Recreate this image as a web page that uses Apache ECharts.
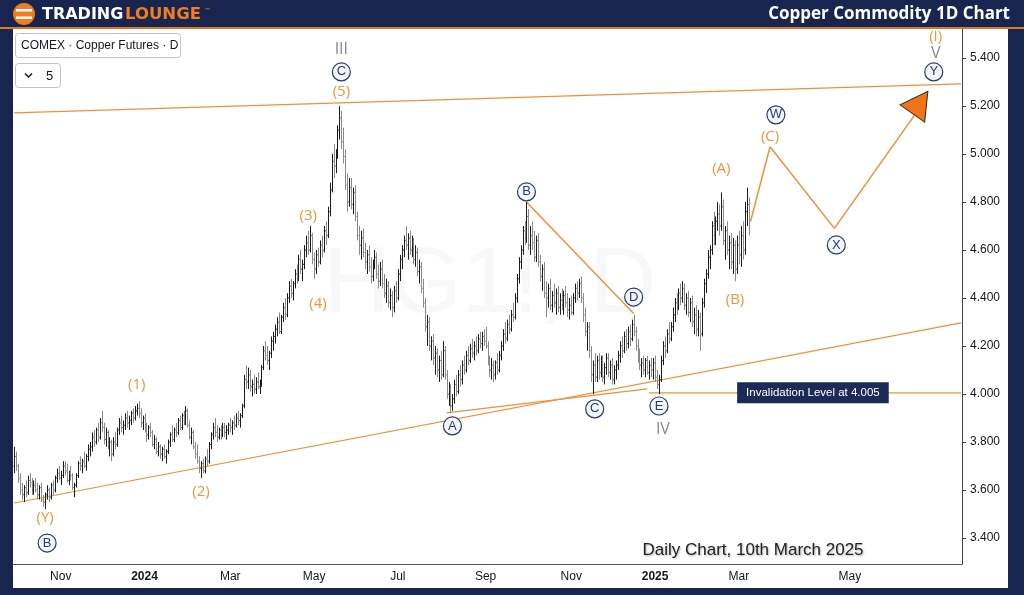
<!DOCTYPE html>
<html>
<head>
<meta charset="utf-8">
<script src="https://cdn.jsdelivr.net/npm/echarts@6/dist/echarts.min.js"></script>
<style>
html, body { margin: 0; padding: 0; background: #17254f; }
#chart { width: 1024px; height: 595px; }
</style>
</head>
<body>
<div id="chart"></div>
<script>
// COMEX copper futures, daily bars: open, high, low, close (from 2023-09-28 to 2025-03-10)
const bars = [
  [3.70,3.78,3.67,3.74],[3.74,3.76,3.68,3.70],[3.70,3.71,3.63,3.65],[3.65,3.67,3.58,3.60],[3.60,3.63,3.56,3.58],
  [3.58,3.62,3.55,3.61],[3.61,3.64,3.57,3.59],[3.59,3.66,3.58,3.64],[3.64,3.67,3.61,3.63],[3.63,3.65,3.58,3.60],
  [3.60,3.64,3.58,3.62],[3.62,3.65,3.59,3.60],[3.60,3.63,3.56,3.58],[3.58,3.62,3.56,3.61],[3.61,3.63,3.55,3.56],
  [3.56,3.58,3.53,3.55],[3.55,3.59,3.52,3.58],[3.58,3.62,3.56,3.60],[3.60,3.61,3.55,3.57],[3.57,3.63,3.56,3.62],
  [3.62,3.64,3.58,3.60],[3.60,3.66,3.59,3.65],[3.65,3.69,3.63,3.67],[3.67,3.70,3.64,3.65],[3.65,3.68,3.62,3.66],
  [3.66,3.72,3.65,3.70],[3.70,3.72,3.66,3.68],[3.68,3.71,3.63,3.64],[3.64,3.68,3.62,3.67],[3.67,3.70,3.64,3.66],
  [3.66,3.67,3.60,3.61],[3.61,3.63,3.57,3.62],[3.62,3.67,3.61,3.66],[3.66,3.72,3.65,3.71],[3.71,3.74,3.68,3.70],
  [3.70,3.73,3.67,3.72],[3.72,3.76,3.69,3.70],[3.70,3.75,3.68,3.74],[3.74,3.79,3.72,3.77],[3.77,3.80,3.74,3.78],
  [3.78,3.84,3.76,3.82],[3.82,3.85,3.78,3.80],[3.80,3.86,3.79,3.85],[3.85,3.88,3.80,3.82],[3.82,3.90,3.81,3.88],
  [3.88,3.93,3.84,3.86],[3.86,3.88,3.79,3.81],[3.81,3.86,3.78,3.84],[3.84,3.85,3.77,3.78],[3.78,3.82,3.74,3.80],
  [3.80,3.81,3.72,3.75],[3.75,3.82,3.74,3.80],[3.80,3.84,3.77,3.79],[3.79,3.86,3.78,3.85],[3.85,3.90,3.83,3.88],
  [3.88,3.91,3.84,3.86],[3.86,3.89,3.83,3.87],[3.87,3.92,3.85,3.90],[3.90,3.93,3.86,3.88],[3.88,3.91,3.85,3.89],
  [3.89,3.93,3.87,3.92],[3.92,3.94,3.88,3.90],[3.90,3.95,3.89,3.93],[3.93,3.96,3.91,3.94],[3.94,3.97,3.90,3.92],
  [3.92,3.94,3.86,3.88],[3.88,3.91,3.85,3.90],[3.90,3.92,3.84,3.85],[3.85,3.88,3.80,3.83],[3.83,3.87,3.81,3.86],
  [3.86,3.88,3.82,3.84],[3.84,3.85,3.78,3.79],[3.79,3.83,3.77,3.81],[3.81,3.82,3.75,3.76],[3.76,3.80,3.74,3.78],
  [3.78,3.79,3.73,3.75],[3.75,3.78,3.72,3.77],[3.77,3.79,3.73,3.74],[3.74,3.77,3.71,3.76],[3.76,3.81,3.75,3.80],
  [3.80,3.84,3.78,3.83],[3.83,3.87,3.80,3.81],[3.81,3.86,3.80,3.85],[3.85,3.88,3.82,3.84],[3.84,3.90,3.83,3.89],
  [3.89,3.91,3.85,3.86],[3.86,3.92,3.85,3.91],[3.91,3.93,3.87,3.88],[3.88,3.95,3.87,3.93],[3.93,3.94,3.86,3.87],
  [3.87,3.89,3.81,3.82],[3.82,3.86,3.79,3.84],[3.84,3.85,3.77,3.78],[3.78,3.80,3.73,3.75],[3.75,3.79,3.71,3.72],
  [3.72,3.74,3.67,3.69],[3.69,3.72,3.65,3.71],[3.71,3.73,3.67,3.68],[3.68,3.74,3.67,3.73],[3.73,3.77,3.70,3.72],
  [3.72,3.80,3.71,3.79],[3.79,3.84,3.77,3.83],[3.83,3.88,3.81,3.86],[3.86,3.90,3.82,3.84],[3.84,3.87,3.80,3.82],
  [3.82,3.86,3.81,3.85],[3.85,3.87,3.81,3.83],[3.83,3.88,3.82,3.86],[3.86,3.88,3.82,3.84],[3.84,3.87,3.81,3.85],
  [3.85,3.88,3.83,3.87],[3.87,3.90,3.84,3.86],[3.86,3.89,3.83,3.88],[3.88,3.91,3.85,3.87],[3.87,3.92,3.86,3.90],
  [3.90,3.93,3.87,3.89],[3.89,3.92,3.86,3.91],[3.91,3.96,3.90,3.95],[3.95,4.08,3.94,4.06],[4.06,4.12,4.02,4.05],
  [4.05,4.11,4.02,4.08],[4.08,4.10,4.01,4.03],[4.03,4.06,3.99,4.04],[4.04,4.08,4.00,4.02],[4.02,4.07,4.00,4.05],
  [4.05,4.09,4.02,4.03],[4.03,4.06,4.00,4.04],[4.04,4.12,4.03,4.11],[4.11,4.20,4.10,4.18],[4.18,4.22,4.14,4.16],
  [4.16,4.20,4.12,4.14],[4.14,4.18,4.10,4.17],[4.17,4.24,4.15,4.22],[4.22,4.26,4.18,4.24],[4.24,4.29,4.21,4.27],
  [4.27,4.32,4.24,4.30],[4.30,4.34,4.25,4.26],[4.26,4.33,4.25,4.32],[4.32,4.38,4.30,4.36],[4.36,4.40,4.31,4.33],
  [4.33,4.42,4.32,4.40],[4.40,4.47,4.38,4.45],[4.45,4.48,4.40,4.42],[4.42,4.47,4.39,4.46],[4.46,4.52,4.44,4.50],
  [4.50,4.54,4.46,4.48],[4.48,4.58,4.47,4.56],[4.56,4.60,4.50,4.52],[4.52,4.56,4.47,4.54],[4.54,4.62,4.52,4.60],
  [4.60,4.66,4.57,4.63],[4.63,4.68,4.58,4.60],[4.60,4.70,4.59,4.66],[4.66,4.67,4.54,4.56],[4.56,4.59,4.48,4.52],
  [4.52,4.60,4.50,4.58],[4.58,4.61,4.53,4.55],[4.55,4.64,4.54,4.62],[4.62,4.66,4.57,4.60],[4.60,4.70,4.59,4.68],
  [4.68,4.72,4.62,4.66],[4.66,4.78,4.65,4.76],[4.76,4.88,4.74,4.85],[4.85,5.00,4.84,4.97],[4.97,5.04,4.90,4.95],
  [4.95,5.02,4.92,5.00],[5.00,5.12,4.98,5.10],[5.10,5.20,5.06,5.15],[5.15,5.18,5.02,5.05],[5.05,5.11,4.96,4.99],
  [4.99,5.02,4.85,4.87],[4.87,4.92,4.76,4.80],[4.80,4.90,4.78,4.86],[4.86,4.90,4.77,4.79],[4.79,4.86,4.75,4.84],
  [4.84,4.87,4.72,4.74],[4.74,4.76,4.64,4.66],[4.66,4.70,4.58,4.62],[4.62,4.68,4.56,4.65],[4.65,4.69,4.57,4.59],
  [4.59,4.63,4.52,4.55],[4.55,4.60,4.50,4.58],[4.58,4.62,4.51,4.53],[4.53,4.57,4.46,4.49],[4.49,4.56,4.47,4.54],
  [4.54,4.60,4.52,4.57],[4.57,4.59,4.48,4.50],[4.50,4.54,4.44,4.47],[4.47,4.55,4.45,4.52],[4.52,4.56,4.44,4.46],
  [4.46,4.50,4.40,4.42],[4.42,4.48,4.38,4.45],[4.45,4.47,4.36,4.38],[4.38,4.44,4.35,4.41],[4.41,4.43,4.32,4.36],
  [4.36,4.45,4.34,4.43],[4.43,4.47,4.38,4.40],[4.40,4.52,4.39,4.50],[4.50,4.58,4.47,4.56],[4.56,4.62,4.52,4.60],
  [4.60,4.66,4.57,4.64],[4.64,4.70,4.60,4.62],[4.62,4.67,4.56,4.65],[4.65,4.68,4.58,4.60],[4.60,4.66,4.57,4.63],
  [4.63,4.65,4.54,4.56],[4.56,4.62,4.53,4.59],[4.59,4.61,4.49,4.51],[4.51,4.56,4.46,4.53],[4.53,4.55,4.42,4.44],
  [4.44,4.48,4.36,4.38],[4.38,4.40,4.26,4.28],[4.28,4.33,4.20,4.30],[4.30,4.32,4.18,4.20],[4.20,4.24,4.14,4.22],
  [4.22,4.25,4.12,4.15],[4.15,4.20,4.08,4.17],[4.17,4.19,4.07,4.10],[4.10,4.16,4.05,4.14],[4.14,4.18,4.06,4.08],
  [4.08,4.22,4.07,4.18],[4.18,4.20,4.06,4.08],[4.08,4.10,3.98,4.00],[4.00,4.05,3.95,4.02],[4.02,4.04,3.92,3.95],
  [3.95,4.00,3.93,3.98],[3.98,4.06,3.96,4.04],[4.04,4.08,3.99,4.01],[4.01,4.10,4.00,4.08],[4.08,4.12,4.03,4.06],
  [4.06,4.14,4.04,4.12],[4.12,4.16,4.08,4.10],[4.10,4.18,4.09,4.16],[4.16,4.20,4.12,4.14],[4.14,4.21,4.13,4.19],
  [4.19,4.23,4.15,4.17],[4.17,4.22,4.14,4.20],[4.20,4.24,4.16,4.18],[4.18,4.25,4.17,4.23],[4.23,4.26,4.19,4.21],
  [4.21,4.26,4.18,4.24],[4.24,4.27,4.20,4.22],[4.22,4.28,4.19,4.20],[4.20,4.22,4.12,4.14],[4.14,4.16,4.07,4.10],
  [4.10,4.15,4.06,4.12],[4.12,4.14,4.05,4.08],[4.08,4.14,4.06,4.13],[4.13,4.17,4.08,4.10],[4.10,4.18,4.09,4.16],
  [4.16,4.22,4.14,4.20],[4.20,4.27,4.18,4.25],[4.25,4.30,4.21,4.23],[4.23,4.31,4.22,4.29],[4.29,4.33,4.25,4.27],
  [4.27,4.35,4.26,4.33],[4.33,4.38,4.30,4.32],[4.32,4.42,4.31,4.40],[4.40,4.50,4.38,4.48],[4.48,4.57,4.46,4.55],
  [4.55,4.62,4.52,4.60],[4.60,4.70,4.58,4.68],[4.68,4.72,4.62,4.65],[4.65,4.80,4.63,4.74],[4.74,4.77,4.60,4.62],
  [4.62,4.70,4.58,4.66],[4.66,4.72,4.60,4.63],[4.63,4.68,4.55,4.57],[4.57,4.66,4.55,4.64],[4.64,4.67,4.53,4.55],
  [4.55,4.58,4.47,4.49],[4.49,4.54,4.43,4.52],[4.52,4.55,4.40,4.42],[4.42,4.47,4.32,4.40],[4.40,4.46,4.36,4.44],
  [4.44,4.48,4.35,4.37],[4.37,4.43,4.34,4.41],[4.41,4.46,4.36,4.38],[4.38,4.44,4.33,4.42],[4.42,4.45,4.34,4.36],
  [4.36,4.42,4.33,4.39],[4.39,4.44,4.35,4.37],[4.37,4.43,4.33,4.41],[4.41,4.45,4.36,4.38],[4.38,4.42,4.32,4.35],
  [4.35,4.40,4.31,4.37],[4.37,4.41,4.33,4.34],[4.34,4.42,4.33,4.40],[4.40,4.46,4.38,4.44],[4.44,4.47,4.39,4.42],
  [4.42,4.48,4.40,4.46],[4.46,4.49,4.38,4.40],[4.40,4.42,4.30,4.33],[4.33,4.36,4.24,4.26],[4.26,4.30,4.18,4.28],
  [4.28,4.30,4.15,4.18],[4.18,4.20,4.05,4.08],[4.08,4.14,4.00,4.12],[4.12,4.17,4.05,4.07],[4.07,4.16,4.05,4.14],
  [4.14,4.17,4.06,4.09],[4.09,4.16,4.07,4.14],[4.14,4.16,4.05,4.07],[4.07,4.13,4.04,4.11],[4.11,4.17,4.08,4.15],
  [4.15,4.17,4.07,4.09],[4.09,4.14,4.06,4.12],[4.12,4.15,4.04,4.06],[4.06,4.12,4.04,4.10],[4.10,4.14,4.06,4.12],
  [4.12,4.18,4.10,4.16],[4.16,4.22,4.13,4.20],[4.20,4.24,4.15,4.18],[4.18,4.26,4.17,4.24],[4.24,4.27,4.18,4.21],
  [4.21,4.28,4.19,4.26],[4.26,4.29,4.20,4.23],[4.23,4.31,4.22,4.29],[4.29,4.33,4.24,4.26],[4.26,4.28,4.18,4.20],
  [4.20,4.23,4.13,4.15],[4.15,4.19,4.10,4.12],[4.12,4.15,4.07,4.13],[4.13,4.16,4.08,4.10],[4.10,4.15,4.07,4.14],
  [4.14,4.16,4.08,4.09],[4.09,4.14,4.06,4.12],[4.12,4.15,4.07,4.10],[4.10,4.15,4.06,4.13],[4.13,4.16,4.05,4.07],
  [4.07,4.10,4.02,4.04],[4.04,4.08,4.00,4.06],[4.06,4.16,4.05,4.14],[4.14,4.22,4.12,4.20],[4.20,4.24,4.15,4.18],
  [4.18,4.27,4.17,4.25],[4.25,4.30,4.21,4.23],[4.23,4.30,4.22,4.28],[4.28,4.36,4.26,4.33],[4.33,4.40,4.30,4.38],
  [4.38,4.42,4.33,4.36],[4.36,4.44,4.35,4.42],[4.42,4.46,4.37,4.40],[4.40,4.47,4.38,4.44],[4.44,4.46,4.35,4.37],
  [4.37,4.42,4.33,4.40],[4.40,4.43,4.32,4.34],[4.34,4.40,4.30,4.38],[4.38,4.41,4.28,4.30],[4.30,4.36,4.25,4.33],
  [4.33,4.37,4.24,4.27],[4.27,4.35,4.24,4.32],[4.32,4.34,4.18,4.25],[4.25,4.40,4.24,4.38],[4.38,4.48,4.36,4.46],
  [4.46,4.52,4.42,4.50],[4.50,4.60,4.48,4.57],[4.57,4.62,4.52,4.60],[4.60,4.72,4.58,4.70],[4.70,4.76,4.62,4.66],
  [4.66,4.74,4.62,4.72],[4.72,4.80,4.68,4.75],[4.75,4.79,4.66,4.70],[4.70,4.84,4.68,4.78],[4.78,4.81,4.62,4.64],
  [4.64,4.70,4.56,4.68],[4.68,4.72,4.58,4.60],[4.60,4.66,4.52,4.63],[4.63,4.67,4.52,4.55],[4.55,4.65,4.50,4.62],
  [4.62,4.64,4.47,4.52],[4.52,4.66,4.50,4.62],[4.62,4.68,4.54,4.58],[4.58,4.70,4.53,4.66],[4.66,4.72,4.56,4.60],
  [4.60,4.80,4.58,4.76],[4.76,4.86,4.70,4.79],[4.79,4.82,4.66,4.72]
];
const firstDay = '2023-09-28';
const futureDays = 109;
const yTicks = [3.4, 3.6, 3.8, 4.0, 4.2, 4.4, 4.6, 4.8, 5.0, 5.2, 5.4];
const invalidLevel = 4.005;

// annotations: [bar index, price, text]
const circled = [
  [168, 5.342, 'C'], [17, 3.379, 'B'], [225, 3.867, 'A'], [263, 4.842, 'B'], [298, 3.938, 'C'],
  [318, 4.404, 'D'], [331, 3.950, 'E'], [391, 5.163, 'W'], [422, 4.621, 'X'], [472, 5.342, 'Y']
];
const orangeText = [
  [168, 5.258, '(5)'], [151, 4.742, '(3)'], [156, 4.375, '(4)'], [63, 4.037, '(1)'], [96, 3.592, '(2)'],
  [16, 3.483, '(Y)'], [363, 4.938, '(A)'], [370, 4.392, '(B)'], [388, 5.071, '(C)'], [473, 5.487, '(I)']
];
const greyText = [[168, 5.437, 'III'], [333, 3.854, 'IV'], [473, 5.421, 'V']];

const trendUpper = [[0, 5.171], [486, 5.292]];
const trendLower = [[0, 3.546], [486, 4.296]];
const trendAC = [[222, 3.921], [325, 4.021]];
const trendBD = [[263, 4.800], [318, 4.335]];
const invalidLine = [[326, invalidLevel], [486, invalidLevel]];
const projection = [[378, 4.72], [388, 5.03], [421, 4.69], [462, 5.16]];
const arrowHead = [[465, 5.215]];

// dates: weekdays for the history, calendar days for the projection area
const categories = [];
let d = new Date(firstDay + 'T00:00:00Z');
while (categories.length < bars.length) {
	const wd = d.getUTCDay();
	if (wd !== 0 && wd !== 6) categories.push(d.toISOString().slice(0, 10));
	d.setUTCDate(d.getUTCDate() + 1);
}
for (let i = 0; i < futureDays; i++) {
	categories.push(d.toISOString().slice(0, 10));
	d.setUTCDate(d.getUTCDate() + 1);
}
const months = ['Jan', 'Feb', 'Mar', 'Apr', 'May', 'Jun', 'Jul', 'Aug', 'Sep', 'Oct', 'Nov', 'Dec'];

const ORANGE = '#f0903a';
const NAVY = '#2b3b6b';

const chart = echarts.init(document.getElementById('chart'));

const lineSeries = (data, color, width) => ({
	type: 'line',
	data: data,
	symbol: 'none',
	silent: true,
	z: 3,
	lineStyle: { color: color, width: width },
	animation: false
});

const textSeries = (data, color, size) => ({
	type: 'scatter',
	data: data.map(a => ({ value: [a[0], a[1]], name: a[2] })),
	symbolSize: 1,
	itemStyle: { color: 'rgba(0,0,0,0)', opacity: 1 },
	z: 6,
	label: {
		show: true,
		position: 'inside',
		formatter: '{b}',
		color: color,
		fontSize: size,
		fontFamily: 'Open Sans'
	}
});

const options = {
	backgroundColor: '#17254f',
	animation: false,
	grid: { left: 13, right: 62, top: 29, bottom: 31 },
	xAxis: {
		type: 'category',
		data: categories,
		boundaryGap: true,
		axisLine: { lineStyle: { color: '#555', width: 1 } },
		axisTick: { show: false },
		splitLine: { show: false },
		axisLabel: {
			margin: 7,
			color: '#131722',
			fontSize: 12,
			fontFamily: 'Liberation Sans',
			interval: (index, value) => {
				if (index === 0) return false;
				const m = +value.slice(5, 7);
				return value.slice(5, 7) !== categories[index - 1].slice(5, 7) && m % 2 === 1;
			},
			formatter: value => {
				const m = +value.slice(5, 7);
				return m === 1 ? '{y|' + value.slice(0, 4) + '}' : months[m - 1];
			},
			rich: { y: { fontWeight: 'bold', fontSize: 12, color: '#131722', fontFamily: 'Liberation Sans' } }
		}
	},
	yAxis: {
		type: 'value',
		position: 'right',
		min: 3.2917,
		max: 5.5208,
		splitLine: { show: false },
		axisLine: { show: true, lineStyle: { color: '#444' } },
		axisTick: { show: true, length: 4, customValues: yTicks, lineStyle: { color: '#444' } },
		axisLabel: {
			customValues: yTicks,
			formatter: v => v.toFixed(3),
			color: '#131722',
			fontSize: 12,
			fontFamily: 'Liberation Sans',
			margin: 8
		}
	},
	series: [
		{
			type: 'custom',
			data: bars.map((b, i) => [i, b[0], b[1], b[2], b[3]]),
			encode: { x: 0, y: [1, 2, 3, 4] },
			z: 4,
			renderItem: (params, api) => {
				const i = api.value(0);
				const o = api.value(1), h = api.value(2), l = api.value(3), c = api.value(4);
				const x = Math.round(api.coord([i, o])[0]) + 0.5;
				const yo = api.coord([i, o])[1];
				const yh = api.coord([i, h])[1];
				const yl = api.coord([i, l])[1];
				const yc = api.coord([i, c])[1];
				const col = c >= o ? '#1c1c1c' : '#8a8a8a';
				const st = { stroke: col, lineWidth: 1 };
				return {
					type: 'group',
					children: [
						{ type: 'line', shape: { x1: x, y1: yh, x2: x, y2: yl }, style: st },
						{ type: 'line', shape: { x1: x - 1, y1: yo, x2: x, y2: yo }, style: st },
						{ type: 'line', shape: { x1: x, y1: yc, x2: x + 1, y2: yc }, style: st }
					]
				};
			}
		},
		lineSeries(trendUpper, ORANGE, 1.2),
		lineSeries(trendLower, ORANGE, 1.2),
		lineSeries(trendAC, ORANGE, 1.2),
		lineSeries(trendBD, ORANGE, 1.5),
		lineSeries(invalidLine, ORANGE, 1.2),
		lineSeries(projection, ORANGE, 1.5),
		{
			type: 'scatter',
			data: arrowHead,
			symbol: 'triangle',
			symbolSize: [30, 27],
			symbolRotate: -35,
			z: 5,
			itemStyle: { color: '#f27418', borderColor: '#3a2a20', borderWidth: 1, opacity: 1 }
		},
		{
			type: 'scatter',
			data: [{ value: [410, invalidLevel], name: 'Invalidation Level at 4.005' }],
			symbolSize: 1,
			itemStyle: { color: 'rgba(0,0,0,0)', opacity: 1 },
			z: 6,
			label: {
				show: true,
				position: 'inside',
				formatter: '{b}',
				color: '#fff',
				fontSize: 11.5,
				fontFamily: 'Liberation Sans',
				backgroundColor: '#1c2a56',
				padding: [5, 9, 4, 9]
			}
		},
		{
			type: 'scatter',
			data: circled.map(a => ({ value: [a[0], a[1]], name: a[2] })),
			symbol: 'circle',
			symbolSize: 18,
			z: 7,
			itemStyle: { color: '#f2f5fb', borderColor: NAVY, borderWidth: 1.2, opacity: 1 },
			label: {
				show: true,
				position: 'inside',
				formatter: '{b}',
				color: NAVY,
				fontSize: 13,
				fontFamily: 'Liberation Sans'
			}
		},
		textSeries(orangeText, '#f2953e', 15),
		textSeries(greyText, '#8a8a8a', 16)
	],
	graphic: {
		elements: [
			{ type: 'rect', z: -10, shape: { x: 13, y: 29, width: 995, height: 559 }, style: { fill: '#ffffff' } },
			{ type: 'rect', z: 10, shape: { x: 0, y: 27, width: 1024, height: 2 }, style: { fill: '#d9772a' } },
			{ type: 'text', z: -5, style: { text: 'HG1!, D', x: 490, y: 287, textAlign: 'center', textVerticalAlign: 'middle', font: '92px "Liberation Sans"', fill: 'rgba(60,70,100,0.04)' } },
			// logo
			{ type: 'circle', z: 10, shape: { cx: 24, cy: 14, r: 11 }, style: { fill: '#f07d1e' } },
			{ type: 'rect', z: 11, shape: { x: 16, y: 9, width: 16, height: 2.5 }, style: { fill: '#ffffff' } },
			{ type: 'rect', z: 11, shape: { x: 16, y: 16.5, width: 16, height: 2.5 }, style: { fill: '#ffffff' } },
			{ type: 'text', z: 10, style: { text: 'TRADING', x: 42, y: 15, textVerticalAlign: 'middle', font: 'bold 16px "DejaVu Sans"', fill: '#ffffff' } },
			{ type: 'text', z: 10, style: { text: 'LOUNGE', x: 125, y: 15, textVerticalAlign: 'middle', font: 'bold 16.5px "DejaVu Sans"', fill: '#f07d1e' } },
			{ type: 'text', z: 10, style: { text: '™', x: 204, y: 8, font: '7px "DejaVu Sans"', fill: '#f07d1e' } },
			// title
			{ type: 'text', z: 10, style: { text: 'Copper Commodity 1D Chart', x: 1010, y: 14, textAlign: 'right', textVerticalAlign: 'middle', font: 'bold 17px "Open Sans"', fill: '#ffffff' } },
			// symbol legend boxes
			{ type: 'rect', z: 10, shape: { x: 15.5, y: 33.5, width: 165, height: 24, r: 3 }, style: { fill: '#fff', stroke: '#c4c4c4', lineWidth: 1 } },
			{ type: 'text', z: 11, style: { text: 'COMEX · Copper Futures · D', x: 21, y: 46, textVerticalAlign: 'middle', font: '12px "Liberation Sans"', fill: '#131722' } },
			{ type: 'rect', z: 10, shape: { x: 15.5, y: 63.5, width: 45, height: 24, r: 3 }, style: { fill: '#fff', stroke: '#c4c4c4', lineWidth: 1 } },
			{ type: 'polyline', z: 11, shape: { points: [[25, 73.5], [28.5, 77], [32, 73.5]] }, style: { stroke: '#131722', lineWidth: 1.5, fill: null } },
			{ type: 'text', z: 11, style: { text: '5', x: 46, y: 76, textAlign: 'left', textVerticalAlign: 'middle', font: '13px "Liberation Sans"', fill: '#131722' } },
			// date note
			{ type: 'text', z: 10, style: { text: 'Daily Chart, 10th March 2025', x: 753, y: 550, textAlign: 'center', textVerticalAlign: 'middle', font: '17px "Liberation Sans"', fill: '#222', textShadowColor: 'rgba(0,0,0,0.3)', textShadowBlur: 2, textShadowOffsetX: 1, textShadowOffsetY: 1 } }
		]
	}
};

chart.setOption(options);
</script>
</body>
</html>
